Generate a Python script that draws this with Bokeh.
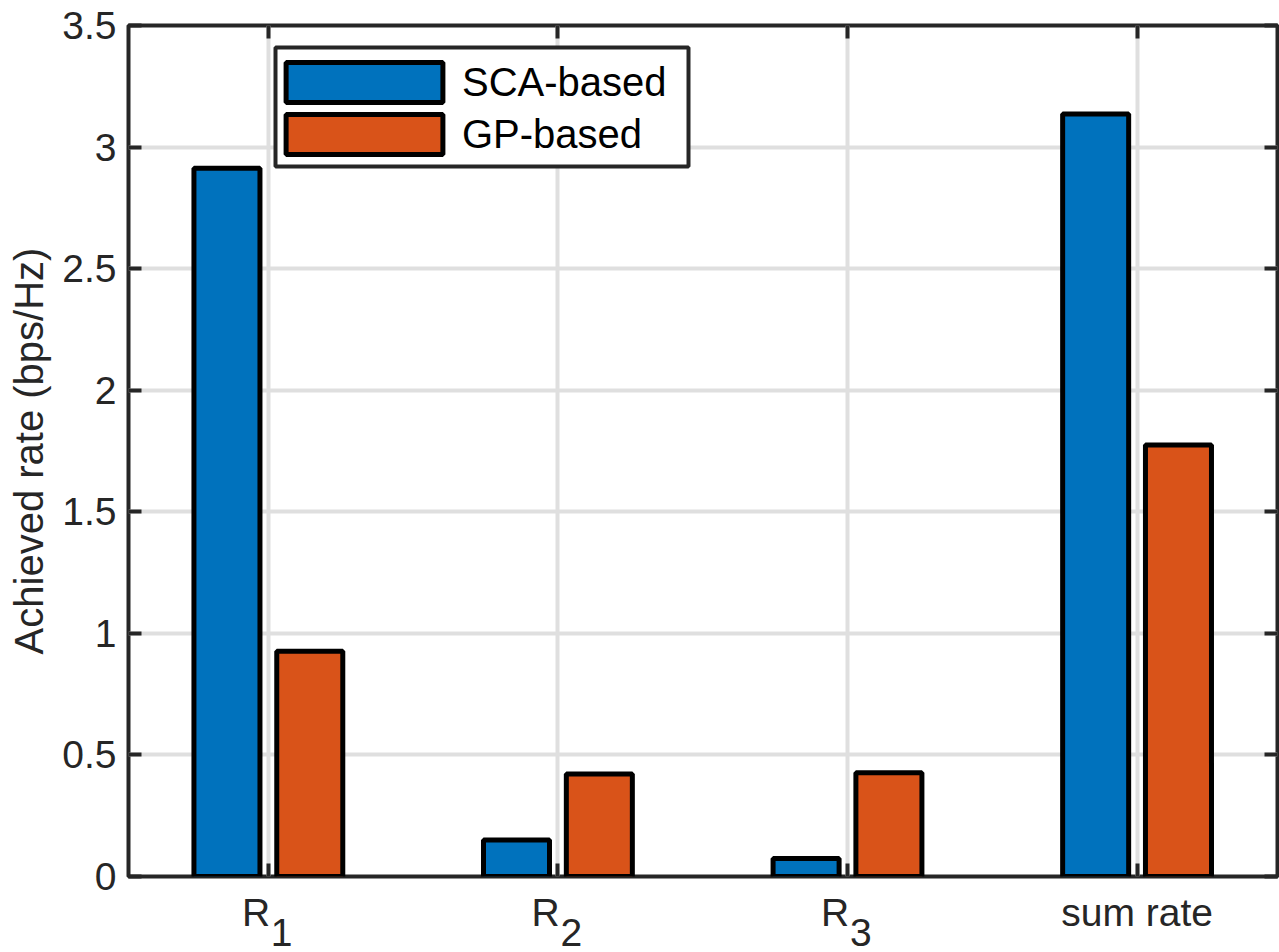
from bokeh.plotting import figure
from bokeh.models import (FixedTicker, LinearAxis, Range1d, Legend, LegendItem, BoxAnnotation,
                          CustomJSTickFormatter, ColumnDataSource)
from bokeh.transform import dodge
from bokeh.embed import file_html
from bokeh.resources import INLINE

# ---- data ----
categories = ["R1", "R2", "R3", "sum rate"]
label_main = ["R", "R", "R", "sum rate"]
label_sub = ["1", "2", "3", ""]
cat_pos = [1, 2, 3, 4]
sca = [2.913, 0.150, 0.074, 3.136]
gp = [0.926, 0.422, 0.427, 1.775]
series_names = ["SCA-based", "GP-based"]
y_ticks = [0, 0.5, 1, 1.5, 2, 2.5, 3, 3.5]
y_tick_labels = ["0", "0.5", "1", "1.5", "2", "2.5", "3", "3.5"]
y_label = "Achieved rate (bps/Hz)"

# ---- style ----
FONT = "Liberation Sans"
AX = "#262626"
GRID = "#dfdfdf"
colors = ["#0072BD", "#D95319"]
MAIN_SHIFT = -0.0425   # main letter sits left of the tick when a subscript follows
SUB_SHIFT = 0.046      # subscript sits right of the tick

p = figure(width=1279, height=952, output_backend="svg", toolbar_location=None,
           x_range=Range1d(0.517, 4.485), y_range=Range1d(0, 3.5),
           min_border_left=128, min_border_right=2, min_border_top=25, min_border_bottom=76,
           background_fill_color="white", border_fill_color="white")

p.outline_line_color = AX
p.outline_line_width = 4

src = ColumnDataSource(dict(x=cat_pos, sca=sca, gp=gp))
r1 = p.vbar(x=dodge("x", -0.143), top="sca", width=0.228, bottom=0, source=src,
            fill_color=colors[0], line_color="black", line_width=5)
r2 = p.vbar(x=dodge("x", 0.143), top="gp", width=0.228, bottom=0, source=src,
            fill_color=colors[1], line_color="black", line_width=5)

NEAREST = """
let best = -1, bd = 1e9;
for (let i = 0; i < pos.length; i++) { const d = Math.abs(pos[i] - tick); if (d < bd) { bd = d; best = i; } }
return (best >= 0 && bd < 1e-6) ? labs[best] : '';
"""
empty = CustomJSTickFormatter(code="return '';")

def style_axis(ax, ticks=True):
    ax.axis_line_color = None
    ax.major_tick_in = 13 if ticks else 0
    ax.major_tick_out = 0
    ax.major_tick_line_color = AX if ticks else None
    ax.major_tick_line_width = 4
    ax.minor_tick_line_color = None

# left axis
ya = p.yaxis[0]
ya.ticker = FixedTicker(ticks=y_ticks)
ya.formatter = CustomJSTickFormatter(args=dict(pos=y_ticks, labs=y_tick_labels), code=NEAREST)
style_axis(ya)
ya.major_label_text_font = FONT
ya.major_label_text_font_size = "39px"
ya.major_label_text_color = AX
ya.major_label_standoff = 12
ya.axis_label = y_label
ya.axis_label_text_font = FONT
ya.axis_label_text_font_size = "40px"
ya.axis_label_text_font_style = "normal"
ya.axis_label_text_color = AX
ya.axis_label_standoff = 8

# bottom axis: tick marks only
xa = p.xaxis[0]
xa.ticker = FixedTicker(ticks=cat_pos)
xa.formatter = empty
style_axis(xa)
xa.major_label_text_font_size = "1px"
xa.major_label_standoff = 0

# category labels: main text and subscripts on two stacked label-only axes
main_pos = [c + (MAIN_SHIFT if s else 0.0) for c, s in zip(cat_pos, label_sub)]
sub_pos = [c + SUB_SHIFT for c, s in zip(cat_pos, label_sub) if s]
sub_labs = [s for s in label_sub if s]

xm = LinearAxis(ticker=FixedTicker(ticks=main_pos),
                formatter=CustomJSTickFormatter(args=dict(pos=main_pos, labs=label_main), code=NEAREST),
                major_label_text_font=FONT, major_label_text_font_size="39px",
                major_label_text_color=AX, major_label_standoff=14)
style_axis(xm, ticks=False)
xs = LinearAxis(ticker=FixedTicker(ticks=sub_pos),
                formatter=CustomJSTickFormatter(args=dict(pos=sub_pos, labs=sub_labs), code=NEAREST),
                major_label_text_font=FONT, major_label_text_font_size="39px",
                major_label_text_color=AX, major_label_standoff=-18)
style_axis(xs, ticks=False)
p.add_layout(xm, "below")
p.add_layout(xs, "below")

# top / right axes (ticks only)
top = LinearAxis(ticker=FixedTicker(ticks=cat_pos), formatter=empty,
                 major_label_text_font_size="1px", major_label_standoff=0)
style_axis(top)
right = LinearAxis(ticker=FixedTicker(ticks=y_ticks), formatter=empty,
                   major_label_text_font_size="1px", major_label_standoff=0)
style_axis(right)
p.add_layout(top, "above")
p.add_layout(right, "right")

p.xgrid.ticker = FixedTicker(ticks=cat_pos)
p.ygrid.ticker = FixedTicker(ticks=y_ticks)
for g in (p.xgrid[0], p.ygrid[0]):
    g.grid_line_color = GRID
    g.grid_line_width = 4

# legend frame
p.add_layout(BoxAnnotation(left=147, right=560, top=829, bottom=710,
                           left_units="screen", right_units="screen",
                           top_units="screen", bottom_units="screen",
                           fill_color="white", fill_alpha=1.0,
                           line_color=AX, line_width=4, line_alpha=1.0))

legend = Legend(items=[LegendItem(label=series_names[0], renderers=[r1]),
                       LegendItem(label=series_names[1], renderers=[r2])],
                location=(138, 717), glyph_width=196, glyph_height=50, label_standoff=0,
                padding=0, spacing=2, margin=0,
                label_text_font=FONT, label_text_font_size="40px", label_text_color="black",
                border_line_color=None, background_fill_alpha=0.0)
p.add_layout(legend)

open("out.html", "w").write(file_html(p, INLINE))
